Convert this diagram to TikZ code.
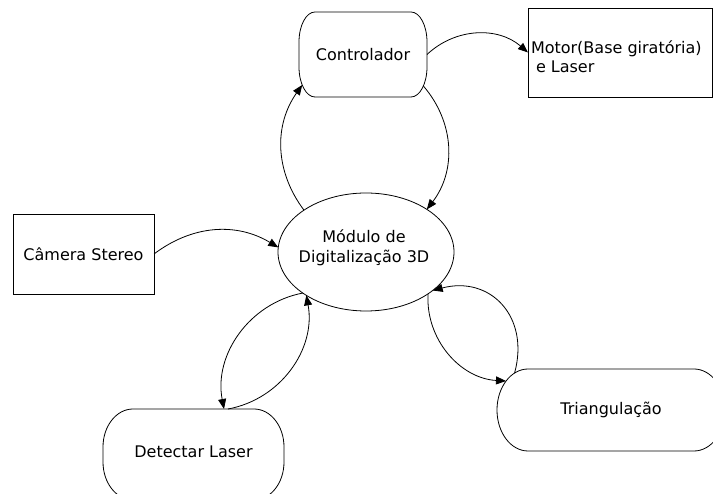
\documentclass[tikz,border=0pt]{standalone}
\usepackage{fontspec}
\setmainfont{DejaVu Sans}
\usetikzlibrary{arrows.meta,shapes.geometric}
\newcommand\ellbox[3]{%
  \draw[line width=0.8pt] ([xshift=#2pt]#1.north west) -- ([xshift=-#2pt]#1.north east)
    arc[start angle=90,end angle=0,x radius=#2pt,y radius=#3pt]
    -- ([yshift=#3pt]#1.south east)
    arc[start angle=0,end angle=-90,x radius=#2pt,y radius=#3pt]
    -- ([xshift=#2pt]#1.south west)
    arc[start angle=270,end angle=180,x radius=#2pt,y radius=#3pt]
    -- ([yshift=-#3pt]#1.north west)
    arc[start angle=180,end angle=90,x radius=#2pt,y radius=#3pt] -- cycle;}
\begin{document}
\begin{tikzpicture}[x=1pt,y=1pt,
  every node/.style={inner sep=0pt, outer sep=0pt, font=\fontsize{16}{19.5}\selectfont},
  shapebox/.style={draw, line width=0.8pt},
  conn/.style={line width=0.8pt, -{Triangle[length=10pt,width=8pt]}}]
\useasboundingbox (0,0) rectangle (713,-494);
\clip (0,0) rectangle (713,-494);
\node[minimum width=128pt, minimum height=85pt] (ctrl) at (363,-54.5) {Controlador};
\ellbox{ctrl}{16}{30}
\node[shapebox, minimum width=184pt, minimum height=89pt] (motor) at (620,-52.5) {};
\node[anchor=west, align=left] (motortxt) at (531,-56.5) {Motor(Base giratória)\\\hspace{5pt}e Laser};
\node[shapebox, minimum width=141pt, minimum height=80pt] (cam) at (83.5,-254) {Câmera Stereo};
\node[shapebox, ellipse, minimum width=176pt, minimum height=118pt] (mod) at (366,-252) {};
\node[align=center] (modtxt) at (364,-248) {Módulo de\\Digitalização 3D};
\node[minimum width=181pt, minimum height=91pt] (det) at (193.5,-454.5) {};
\ellbox{det}{30}{38}
\node (dettxt) at (193.5,-452) {Detectar Laser};
\node[minimum width=228pt, minimum height=82pt] (tri) at (611,-410) {Triangulação};
\ellbox{tri}{31}{41}
\draw[conn] (ctrl.east) to[bend left=42] (motor.west);
\draw[conn] (mod.146) to[bend left=36] ([shift={(-60.8,-30.5)}]ctrl.center);
\draw[conn] ([shift={(60.4,-31.5)}]ctrl.center) to[bend left=39] (mod.35);
\draw[conn] (cam.east) to[bend left=34] (mod.177);
\draw[conn] (mod.213) to[bend right=45] ([shift={(30.5,45.5)}]det.center);
\draw[conn] ([shift={(34.5,45.5)}]det.center) to[bend right=45] (mod.216);
\draw[conn] (mod.326) to[bend right=45] ([shift={(-105,29)}]tri.center);
\draw[conn] ([shift={(-96.4,37)}]tri.center) to[bend right=60, looseness=1.3] (mod.330);
\end{tikzpicture}
\end{document}
